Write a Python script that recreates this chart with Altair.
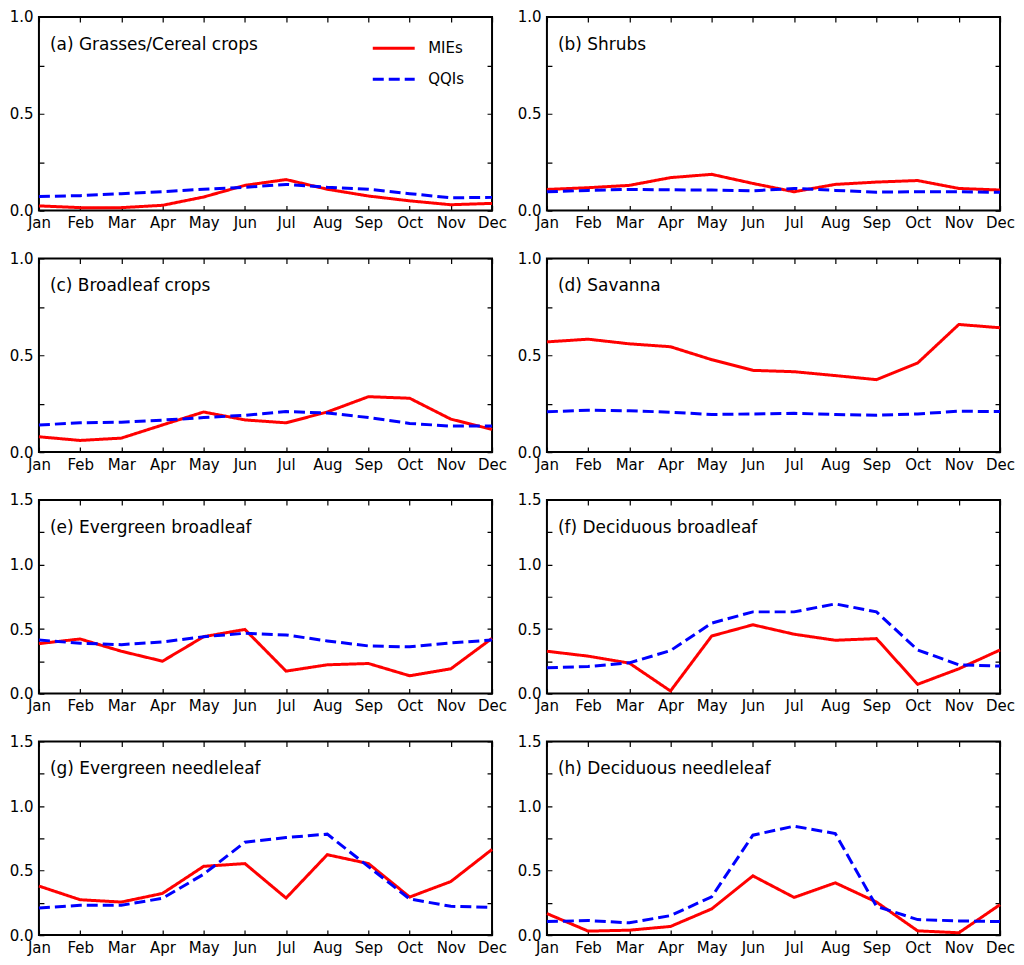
"""Monthly MIEs vs QQIs for eight land-cover types, 4x2 panels."""
import altair as alt
import pandas as pd

months = ["Jan", "Feb", "Mar", "Apr", "May", "Jun", "Jul", "Aug", "Sep", "Oct", "Nov", "Dec"]
series_names = ["MIEs", "QQIs"]

titles = [
    "(a) Grasses/Cereal crops",
    "(b) Shrubs",
    "(c) Broadleaf crops",
    "(d) Savanna",
    "(e) Evergreen broadleaf",
    "(f) Deciduous broadleaf",
    "(g) Evergreen needleleaf",
    "(h) Deciduous needleleaf",
]
y_max = [1.0, 1.0, 1.0, 1.0, 1.5, 1.5, 1.5, 1.5]

mies_a = [0.024, 0.015, 0.015, 0.027, 0.07, 0.13, 0.16, 0.11, 0.075, 0.05, 0.03, 0.037]
qqis_a = [0.072, 0.077, 0.087, 0.097, 0.11, 0.12, 0.135, 0.12, 0.11, 0.087, 0.066, 0.068]
mies_b = [0.109, 0.118, 0.13, 0.17, 0.187, 0.14, 0.097, 0.135, 0.147, 0.155, 0.114, 0.106]
qqis_b = [0.097, 0.104, 0.109, 0.107, 0.106, 0.102, 0.114, 0.104, 0.095, 0.097, 0.097, 0.094]
mies_c = [0.079, 0.06, 0.072, 0.14, 0.207, 0.166, 0.151, 0.207, 0.286, 0.278, 0.17, 0.117]
qqis_c = [0.14, 0.151, 0.154, 0.165, 0.178, 0.19, 0.209, 0.202, 0.178, 0.148, 0.134, 0.134]
mies_d = [0.569, 0.583, 0.559, 0.544, 0.477, 0.422, 0.415, 0.395, 0.374, 0.46, 0.659, 0.642]
qqis_d = [0.208, 0.216, 0.213, 0.206, 0.194, 0.197, 0.2, 0.194, 0.19, 0.197, 0.211, 0.209]
mies_e = [0.387, 0.423, 0.328, 0.251, 0.441, 0.497, 0.174, 0.223, 0.233, 0.138, 0.192, 0.428]
qqis_e = [0.415, 0.39, 0.379, 0.4, 0.441, 0.467, 0.454, 0.408, 0.369, 0.362, 0.392, 0.415]
mies_f = [0.328, 0.29, 0.236, 0.02, 0.446, 0.533, 0.46, 0.413, 0.426, 0.072, 0.192, 0.338]
qqis_f = [0.2, 0.21, 0.238, 0.333, 0.546, 0.633, 0.633, 0.695, 0.633, 0.338, 0.223, 0.213]
mies_g = [0.38, 0.274, 0.256, 0.323, 0.533, 0.554, 0.287, 0.623, 0.554, 0.295, 0.415, 0.664]
qqis_g = [0.21, 0.231, 0.231, 0.285, 0.472, 0.72, 0.756, 0.782, 0.531, 0.28, 0.223, 0.215]
mies_h = [0.167, 0.031, 0.038, 0.067, 0.203, 0.459, 0.292, 0.405, 0.256, 0.033, 0.018, 0.236]
qqis_h = [0.105, 0.113, 0.095, 0.151, 0.297, 0.774, 0.844, 0.787, 0.223, 0.12, 0.11, 0.105]

mies = [mies_a, mies_b, mies_c, mies_d, mies_e, mies_f, mies_g, mies_h]
qqis = [qqis_a, qqis_b, qqis_c, qqis_d, qqis_e, qqis_f, qqis_g, qqis_h]

W, H = 454, 194
TICK = 5
FONT = "DejaVu Sans"


def panel(i):
    df = pd.DataFrame(
        {
            "month": months * 2,
            "value": mies[i] + qqis[i],
            "series": ["MIEs"] * 12 + ["QQIs"] * 12,
        }
    )
    ticks = [k * 0.25 for k in range(int(y_max[i] / 0.25) + 1)]

    if i == 0:
        leg = alt.Legend(
            orient="none", legendX=333, legendY=9, title=None,
            symbolType="stroke", symbolSize=1764, symbolStrokeWidth=3,
            labelFontSize=15, labelFont=FONT, labelColor="black",
            labelOffset=12, rowPadding=-9, padding=0,
        )
    else:
        leg = None

    lines = (
        alt.Chart(df)
        .mark_line(strokeWidth=3)
        .encode(
            x=alt.X(
                "month:O", sort=months,
                scale=alt.Scale(type="point", padding=0),
                axis=alt.Axis(
                    title=None, labelAngle=0, ticks=False, domain=False,
                    grid=True, gridDash=[TICK, H - 2 * TICK, TICK, 1000],
                    gridColor="black", gridWidth=1.2, gridOpacity=1,
                    labelFontSize=15, labelFont=FONT, labelColor="black",
                    labelPadding=5, labelOverlap=False,
                ),
            ),
            y=alt.Y(
                "value:Q",
                scale=alt.Scale(domain=[0, y_max[i]], nice=False),
                axis=alt.Axis(
                    title=None, values=ticks, ticks=False, domain=False,
                    labelExpr="datum.value % 0.5 == 0 ? format(datum.value, '.1f') : ''",
                    grid=True, gridDash=[TICK, W - 2 * TICK, TICK, 1000],
                    gridColor="black", gridWidth=1.2, gridOpacity=1,
                    labelFontSize=15, labelFont=FONT, labelColor="black",
                    labelPadding=6, labelOverlap=False,
                ),
            ),
            color=alt.Color(
                "series:N",
                scale=alt.Scale(domain=series_names, range=["#ff0000", "#0000ff"]),
                legend=leg,
            ),
            strokeDash=alt.StrokeDash(
                "series:N",
                scale=alt.Scale(domain=series_names, range=[[1, 0], [11, 5]]),
                legend=leg,
            ),
        )
    )

    label = (
        alt.Chart(pd.DataFrame({"label": [titles[i]]}))
        .mark_text(align="left", baseline="alphabetic", fontSize=17, font=FONT, color="black")
        .encode(text="label:N", x=alt.value(11), y=alt.value(33))
    )

    return alt.layer(lines, label).properties(width=W, height=H)


chart = (
    alt.concat(
        *[panel(i) for i in range(8)],
        columns=2,
        spacing=alt.RowColnumber(row=48, column=55),
        bounds="flush",
    )
    .resolve_scale(y="independent", x="independent")
    .resolve_legend(color="independent", strokeDash="independent")
    .properties(padding={"left": 0, "top": 0, "right": 0, "bottom": 0})
    .configure(font=FONT)
    .configure_view(stroke="black", strokeWidth=2)
)

chart.save("out.html", embed_options={"renderer": "svg", "actions": False})
